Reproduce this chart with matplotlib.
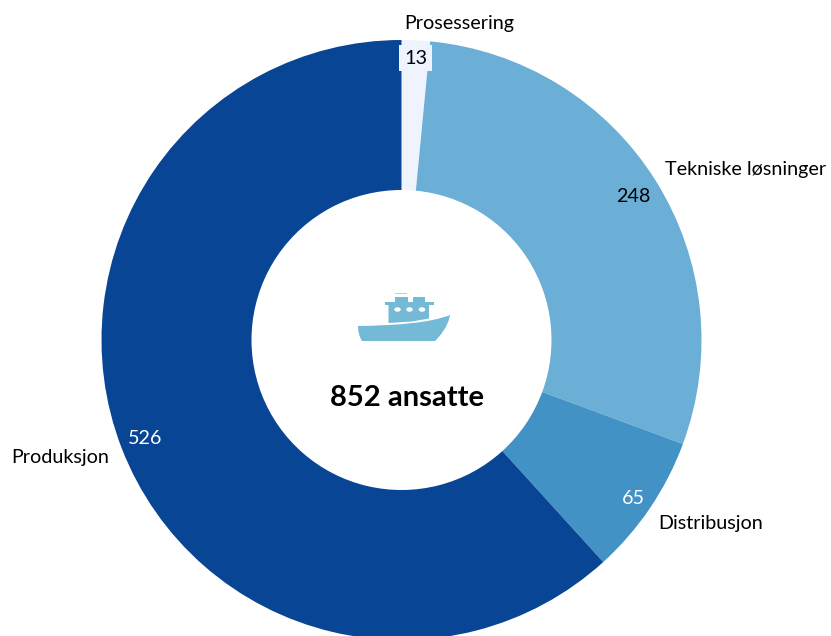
import matplotlib
matplotlib.use("Agg")
import matplotlib.pyplot as plt
from matplotlib.patches import Ellipse, PathPatch, Polygon, Rectangle
from matplotlib.path import Path

plt.rcParams['font.family'] = ['Lato', 'DejaVu Sans']

categories = ["Prosessering", "Tekniske løsninger", "Distribusjon", "Produksjon"]
values = [13, 248, 65, 526]
colors = ["#EEF3FD", "#6BAED6", "#4292C6", "#084594"]
total_label = "852 ansatte"

H = 636
SHIP = "#74B9D6"
FS = 14.2


def py(y):
    # pixel row in the picture -> y in the axes
    return H - y


fig = plt.figure(figsize=(8.31, 6.36), dpi=100)
ax = fig.add_axes([0, 0, 1, 1])

cx, cy, r = 401.5, py(340), 300
ax.pie(values, colors=colors, startangle=90, counterclock=False, center=(cx, cy),
       radius=r, frame=True, wedgeprops=dict(width=150, edgecolor="none"))
ax.set_xlim(0, 831)
ax.set_ylim(0, H)
ax.set_aspect("auto")
ax.axis("off")

# labels outside the ring
ax.text(459, py(23), categories[0], ha="center", va="center", fontsize=FS, color="black")
ax.text(745.5, py(169), categories[1], ha="center", va="center", fontsize=FS, color="black")
ax.text(711, py(523), categories[2], ha="center", va="center", fontsize=FS, color="black")
ax.text(60.5, py(458), categories[3], ha="center", va="center", fontsize=FS, color="black")

# values on the ring
ax.text(415.5, py(58), str(values[0]), ha="center", va="center", fontsize=FS, color="black",
        bbox=dict(facecolor="#EEF3FD", edgecolor="none", boxstyle="square,pad=0.25"))
ax.text(633, py(196), str(values[1]), ha="center", va="center", fontsize=FS, color="black")
ax.text(633, py(498), str(values[2]), ha="center", va="center", fontsize=FS, color="white")
ax.text(145, py(439), str(values[3]), ha="center", va="center", fontsize=FS, color="white")

ax.text(407, py(398.5), total_label, ha="center", va="center", fontsize=21, fontweight="bold", color="black")

# ship icon
hull = Path(
    [(358, py(326)), (395, py(325.5)), (430, py(323)), (450, py(315)),
     (448, py(327)), (440, py(336)), (435, py(341)), (362, py(341)),
     (359, py(336)), (358, py(331)), (358, py(326)), (358, py(326))],
    [Path.MOVETO, Path.CURVE4, Path.CURVE4, Path.CURVE4,
     Path.CURVE4, Path.CURVE4, Path.CURVE4, Path.LINETO,
     Path.CURVE4, Path.CURVE4, Path.CURVE4, Path.CLOSEPOLY],
)
ax.add_patch(PathPatch(hull, facecolor=SHIP, edgecolor="none", zorder=5))
cabin = Polygon(
    [(388.5, py(323)), (388.5, py(304)), (429, py(304)), (429, py(318.5)), (412, py(321.5))],
    closed=True, facecolor=SHIP, edgecolor="none", zorder=5)
ax.add_patch(cabin)
ax.add_patch(Rectangle((385, py(305)), 49, 3, facecolor=SHIP, edgecolor="none", zorder=5))
ax.add_patch(Rectangle((395, py(303)), 13, 6, facecolor=SHIP, edgecolor="none", zorder=5))
ax.add_patch(Rectangle((413, py(303)), 12, 6, facecolor=SHIP, edgecolor="none", zorder=5))
ax.add_patch(Rectangle((395, py(294)), 12, 1.5, facecolor="#A9D5E6", edgecolor="none", zorder=5))
for x in (397.5, 409.5, 422):
    ax.add_patch(Ellipse((x, py(309.5)), 6.5, 4.5, facecolor="white", edgecolor="none", zorder=6))

fig.savefig("out.png", dpi=100, facecolor="white")
